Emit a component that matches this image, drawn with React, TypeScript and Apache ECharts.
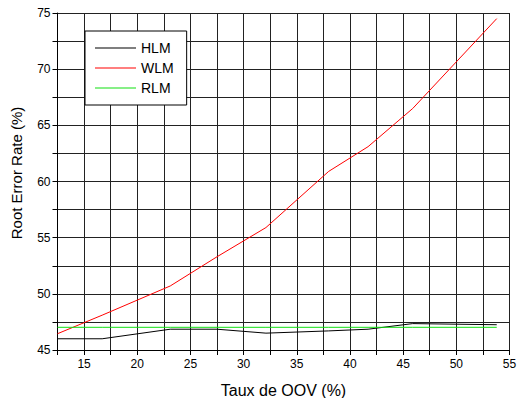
import React, { useEffect, useRef } from "react";
import * as echarts from "echarts";

const oovRates = [12.5, 16.7, 23.1, 27.5, 32.1, 38, 41.7, 45.9, 53.8];
const hlm = [46.0, 46.0, 46.85, 46.85, 46.5, 46.7, 46.85, 47.35, 47.25];
const wlm = [46.45, 48.1, 50.7, 53.3, 55.9, 60.9, 63.1, 66.5, 74.5];
const rlm = [47.02, 47.02, 47.02, 47.02, 47.02, 47.02, 47.02, 47.02, 47.02];
const seriesNames = ["HLM", "WLM", "RLM"];
const seriesColors = ["#000000", "#ff0000", "#11e011"];

const FONT = "'Liberation Sans', Arial, sans-serif";

export default function App() {
  const ref = useRef<HTMLDivElement>(null);
  useEffect(() => {
    if (!ref.current) return;
    const chart = echarts.init(ref.current, null, { renderer: "svg" });
    const values = [hlm, wlm, rlm];
    const mk = (i: number) => ({
      name: seriesNames[i],
      type: "line",
      data: oovRates.map((x, j) => [x, values[i][j]]),
      symbol: "none",
      showSymbol: false,
      color: seriesColors[i],
      lineStyle: { color: seriesColors[i], width: 1 },
      itemStyle: { color: seriesColors[i] },
      z: 5,
    });
    chart.setOption({
      animation: false,
      textStyle: { fontFamily: FONT },
      grid: {
        left: 57.5,
        right: 7.5,
        top: 13,
        bottom: 48,
        containLabel: false,
        outerBoundsMode: "none",
      },
      legend: {
        show: true,
        orient: "vertical",
        left: 85,
        top: 31,
        padding: [10, 13, 10, 10],
        itemGap: 6,
        itemWidth: 41,
        itemHeight: 14,
        backgroundColor: "#fff",
        borderColor: "#000",
        borderWidth: 1,
        icon: "path://M0,0 L41,0 L41,1 L0,1 Z",
        textStyle: { fontFamily: FONT, fontSize: 14, color: "#000", padding: [0, 0, 0, 0] },
        data: seriesNames.map((n) => ({ name: n })),
      },
      xAxis: {
        type: "value",
        min: 12.5,
        max: 55,
        interval: 2.5,
        name: "Taux de OOV (%)",
        nameLocation: "middle",
        nameGap: 32,
        nameTextStyle: { fontFamily: FONT, fontSize: 16, color: "#000" },
        axisLine: { show: true, onZero: false, lineStyle: { color: "#000", width: 1 } },
        axisTick: { show: true, inside: false, length: 5, lineStyle: { color: "#000" } },
        axisLabel: {
          fontFamily: FONT,
          fontSize: 12,
          color: "#000",
          margin: 8,
          formatter: (v: number) => (Math.abs(v % 5) < 1e-6 ? String(v) : ""),
        },
        splitLine: { show: true, lineStyle: { color: "#222", width: 1 } },
      },
      yAxis: {
        type: "value",
        min: 45,
        max: 75,
        interval: 2.5,
        name: "Root Error Rate (%)",
        nameLocation: "middle",
        nameGap: 34,
        nameTextStyle: { fontFamily: FONT, fontSize: 15, color: "#000", padding: [0, 0, 0, 17] },
        axisLine: { show: true, onZero: false, lineStyle: { color: "#000", width: 1 } },
        axisTick: { show: true, inside: false, length: 5, lineStyle: { color: "#000" } },
        axisLabel: {
          fontFamily: FONT,
          fontSize: 12,
          color: "#000",
          margin: 7,
          formatter: (v: number) => (Math.abs(v % 5) < 1e-6 ? String(v) : ""),
        },
        splitLine: { show: true, lineStyle: { color: "#222", width: 1 } },
      },
      series: [mk(0), mk(1), mk(2)],
    });
    return () => chart.dispose();
  }, []);
  return <div ref={ref} style={{ width: 517, height: 398, position: "absolute", left: 0, top: 0 }} />;
}
